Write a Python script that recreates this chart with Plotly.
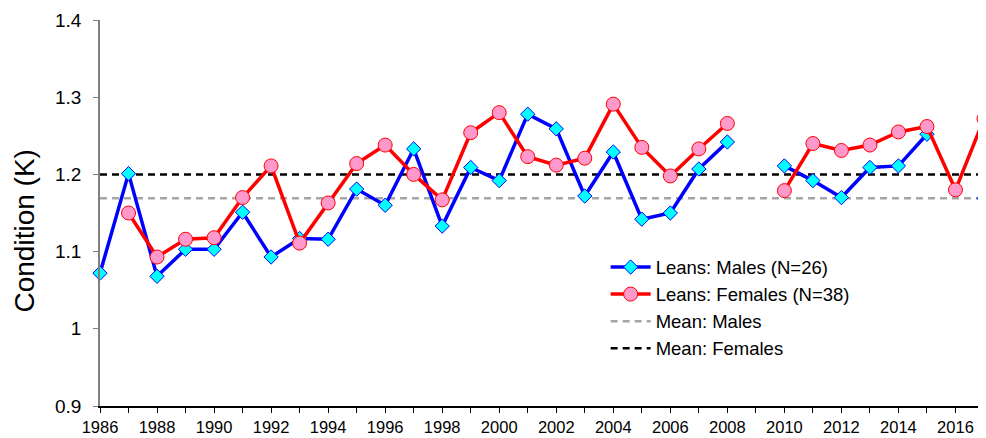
import plotly.graph_objects as go

# ── Data ─────────────────────────────────────────────────────────────────────
YEARS = list(range(1986, 2018))

MALES = [1.072, 1.201, 1.068, 1.103, 1.103, 1.151, 1.093, 1.117, 1.116, 1.181,
         1.160, 1.233, 1.133, 1.209, 1.192, 1.278, 1.259, 1.172, 1.229, 1.142,
         1.150, 1.207, 1.242, None, 1.211, 1.192, 1.170, 1.209, 1.211, 1.252,
         None, 1.169]

FEMALES = [None, 1.150, 1.093, 1.116, 1.118, 1.170, 1.211, 1.111, 1.163, 1.214,
           1.238, 1.200, 1.167, 1.254, 1.280, 1.223, 1.212, 1.221, 1.291, 1.235,
           1.198, 1.233, 1.266, None, 1.179, 1.240, 1.231, 1.238, 1.255, 1.262,
           1.180, 1.272]

MEAN_MALES = 1.169
MEAN_FEMALES = 1.200

X_TICKS = list(range(1986, 2018, 2))
Y_TICKS = [0.9, 1.0, 1.1, 1.2, 1.3, 1.4]

# ── Theme ────────────────────────────────────────────────────────────────────
FONT = "Liberation Sans, Arial, sans-serif"
AXIS_CLR = "#808080"

fig = go.Figure()

# mean lines first so they sit beneath the series
fig.add_trace(go.Scatter(
    x=[YEARS[0], YEARS[-1]], y=[MEAN_MALES, MEAN_MALES], mode="lines",
    name="Mean: Males", legendrank=3,
    line=dict(color="#A6A6A6", width=2.5, dash="7px,5px"),
))
fig.add_trace(go.Scatter(
    x=[YEARS[0], YEARS[-1]], y=[MEAN_FEMALES, MEAN_FEMALES], mode="lines",
    name="Mean: Females", legendrank=4,
    line=dict(color="#000000", width=2.5, dash="7px,5px"),
))
fig.add_trace(go.Scatter(
    x=YEARS, y=MALES, mode="lines+markers", name="Leans: Males (N=26)",
    legendrank=1,
    line=dict(color="#0000FF", width=3.5),
    marker=dict(symbol="diamond", size=11, color="#00FFFF",
                line=dict(color="#0000FF", width=1)),
    connectgaps=False, cliponaxis=False,
))
fig.add_trace(go.Scatter(
    x=YEARS, y=FEMALES, mode="lines+markers", name="Leans: Females (N=38)",
    legendrank=2,
    line=dict(color="#FF0000", width=3.5),
    marker=dict(symbol="circle", size=14, color="#FF99CC",
                line=dict(color="#FF0000", width=1)),
    connectgaps=False, cliponaxis=False,
))

# page body has an 8px margin, so the figure is sized/offset to suit
fig.update_layout(
    width=978, height=430,
    margin=dict(l=92, r=2, t=9, b=29),
    paper_bgcolor="white", plot_bgcolor="white",
    font=dict(family=FONT, color="#000000", size=15),
    showlegend=True,
    legend=dict(
        x=0.572, y=0.408, xanchor="left", yanchor="top",
        bgcolor="rgba(0,0,0,0)", font=dict(size=18.5),
        traceorder="normal", itemwidth=40, tracegroupgap=0,
    ),
)

# y-axis title as an annotation so it can sit a little below centre
fig.add_annotation(
    text="Condition (K)", textangle=-90, showarrow=False,
    xref="paper", yref="paper", x=0, y=0.452,
    xanchor="center", yanchor="middle", xshift=-75,
    font=dict(size=28, color="#000000"),
)

fig.update_xaxes(
    range=[YEARS[0], YEARS[-1]], tickvals=X_TICKS,
    showgrid=False, zeroline=False,
    showline=True, linecolor="#000000", linewidth=1.5,
    ticks="outside", ticklen=5, tickcolor="#000000",
    minor=dict(dtick=1, ticks="outside", ticklen=5, tickcolor="#000000"),
    tickfont=dict(size=16.5), ticklabeloverflow="allow",
)
fig.update_yaxes(
    range=[0.9, 1.4], tickvals=Y_TICKS,
    showgrid=False, zeroline=False,
    showline=True, linecolor=AXIS_CLR, linewidth=1.5,
    ticks="outside", ticklen=5, tickcolor=AXIS_CLR,
    tickfont=dict(size=19), ticklabelstandoff=8, ticklabeloverflow="allow",
)

fig.write_html("out.html")
